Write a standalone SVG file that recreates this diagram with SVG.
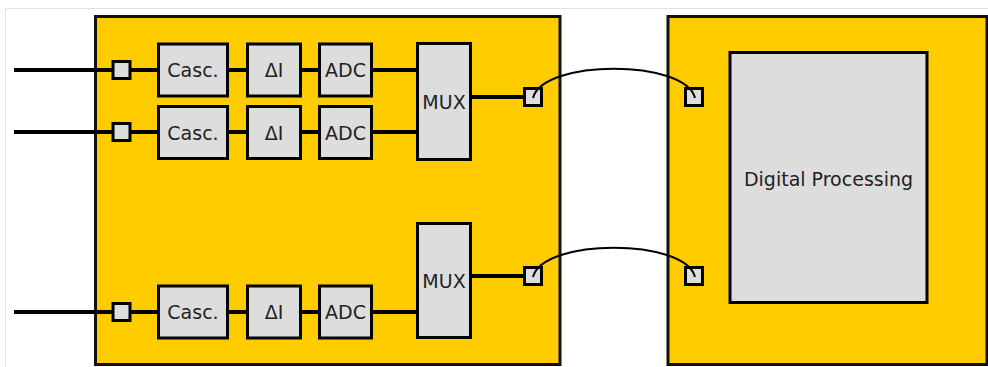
<svg xmlns="http://www.w3.org/2000/svg" width="988" height="367" viewBox="0 0 988 367">
<style>
.block{fill:#ffcc00;stroke:#111;stroke-width:3}
.box{fill:#dddddd;stroke:#000;stroke-width:3}
.port{fill:#dddddd;stroke:#000;stroke-width:3}
.lbl{font-family:"DejaVu Sans",Verdana,sans-serif;font-size:19px;fill:#222;text-anchor:middle}
.wire{stroke:#000;stroke-width:4;fill:none}
.link{stroke:#000;stroke-width:2;fill:none}
.frame{stroke:#e2e2e2;stroke-width:1;fill:none}
</style>
<rect width="988" height="367" fill="#fff"/>
<path class="frame" d="M5.5,367 V8.5 H988"/>

<g id="analog-chip"><rect class="block" x="95.5" y="16.5" width="464.5" height="348"/></g>
<g id="digital-chip"><rect class="block" x="668" y="16.5" width="319" height="348"/></g>

<g id="port-in-1"><rect class="port" x="113" y="61.5" width="17" height="17"/></g>
<g id="port-in-2"><rect class="port" x="113" y="123.5" width="17" height="17"/></g>
<g id="port-in-3"><rect class="port" x="113" y="303.5" width="17" height="17"/></g>

<g id="casc-1"><rect class="box" x="158.5" y="44" width="69" height="52"/><text class="lbl" x="193" y="77">Casc.</text></g>
<g id="casc-2"><rect class="box" x="158.5" y="106.5" width="69" height="52"/><text class="lbl" x="193" y="139.5">Casc.</text></g>
<g id="casc-3"><rect class="box" x="158.5" y="286" width="69" height="52"/><text class="lbl" x="193" y="319">Casc.</text></g>

<g id="di-1"><rect class="box" x="247.5" y="44" width="53" height="52"/><text class="lbl" x="274" y="77">ΔI</text></g>
<g id="di-2"><rect class="box" x="247.5" y="106.5" width="53" height="52"/><text class="lbl" x="274" y="139.5">ΔI</text></g>
<g id="di-3"><rect class="box" x="247.5" y="286" width="53" height="52"/><text class="lbl" x="274" y="319">ΔI</text></g>

<g id="adc-1"><rect class="box" x="319.5" y="44" width="52" height="52"/><text class="lbl" x="345.5" y="77">ADC</text></g>
<g id="adc-2"><rect class="box" x="319.5" y="106.5" width="52" height="52"/><text class="lbl" x="345.5" y="139.5">ADC</text></g>
<g id="adc-3"><rect class="box" x="319.5" y="286" width="52" height="52"/><text class="lbl" x="345.5" y="319">ADC</text></g>

<g id="mux-1"><rect class="box" x="417.5" y="43.5" width="53" height="116"/><text class="lbl" x="444" y="108.5">MUX</text></g>
<g id="mux-2"><rect class="box" x="417.5" y="223.5" width="53" height="114"/><text class="lbl" x="444" y="287.5">MUX</text></g>

<g id="port-out-1"><rect class="port" x="524.5" y="88.5" width="17" height="17"/></g>
<g id="port-out-2"><rect class="port" x="524.5" y="267.5" width="17" height="17"/></g>
<g id="port-dp-1"><rect class="port" x="685.5" y="88.5" width="17" height="17"/></g>
<g id="port-dp-2"><rect class="port" x="685.5" y="267.5" width="17" height="17"/></g>

<g id="digital-processing"><rect class="box" x="730" y="52.5" width="197" height="250"/><text class="lbl" x="828.5" y="186">Digital Processing</text></g>

<g id="connectors">
<path class="wire" d="M14,70 H113 M130,70 H158.5 M227.5,70 H247.5 M300.5,70 H319.5 M371.5,70 H417.5"/>
<path class="wire" d="M14,132 H113 M130,132 H158.5 M227.5,132 H247.5 M300.5,132 H319.5 M371.5,132 H417.5"/>
<path class="wire" d="M14,312 H113 M130,312 H158.5 M227.5,312 H247.5 M300.5,312 H319.5 M371.5,312 H417.5"/>
<path class="wire" d="M470.5,97 H524.5 M470.5,276 H524.5"/>
<path class="link" d="M533,98 C543,59 685,59 695,98"/>
<path class="link" d="M533,277 C543,238 685,238 695,277"/>
</g>
</svg>
